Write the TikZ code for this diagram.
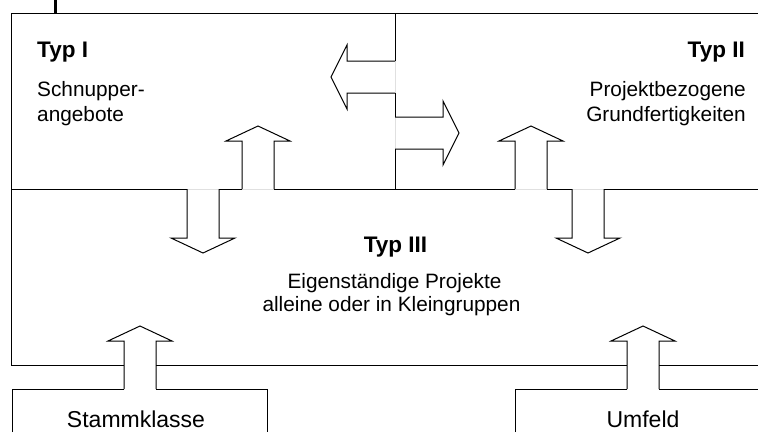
\documentclass[tikz,border=0pt]{standalone}
\usepackage{fontspec}
\setmainfont{Liberation Sans}
\usetikzlibrary{calc}

\tikzset{
  frame/.style={line width=1pt, line join=miter},
  opening/.style={line width=0.8pt, black!12},
  typhead/.style={font=\fontsize{22.5}{27}\selectfont\bfseries, inner sep=0pt},
  typtext/.style={font=\fontsize{20.8}{25}\selectfont, inner sep=0pt},
  boxname/.style={font=\fontsize{23}{27}\selectfont, inner sep=0pt}
}

\begin{document}
\begin{tikzpicture}[x=1pt,y=-1pt]
\useasboundingbox (0,0) rectangle (758,432);

% Corners of the frames
\coordinate (TL) at (11,13);
\coordinate (TR) at (758,13);
\coordinate (ML) at (11,189);
\coordinate (MR) at (758,189);
\coordinate (BL) at (11,365);
\coordinate (BR) at (758,365);

% Divider between Typ I and Typ II
\coordinate (D1) at (395,13);
\coordinate (D2) at (395,189);

% Foot of each arrow shaft
\coordinate (A1) at (242,189); % Typ III -> Typ I
\coordinate (A2) at (515,189); % Typ III -> Typ II
\coordinate (A3) at (187,189); % Typ I -> Typ III
\coordinate (A4) at (572,189); % Typ II -> Typ III
\coordinate (A5) at (124,389); % Stammklasse -> Typ III
\coordinate (A6) at (627,389); % Umfeld -> Typ III
\coordinate (A7) at (395,61);  % Typ II -> Typ I
\coordinate (A8) at (395,117); % Typ I -> Typ II

% Small tick at the top
\draw[line width=2.4pt] (55.5,0) -- (55.5,13);

% Draw the upper frame
\draw[frame] (ML) -- (TL) -- (TR);
\draw[frame] (D1) -- (A7) ($(A7)+(0,32)$) -- (A8) ($(A8)+(0,32)$) -- (D2);
\draw[opening] (A7) -- ++(0,32) (A8) -- ++(0,32);

% Line between upper and middle frame (open where the arrows pass)
\draw[frame] (ML) -- (A3) ($(A3)+(32,0)$) -- (A1) ($(A1)+(32,0)$) -- (A2)
  ($(A2)+(32,0)$) -- (A4) ($(A4)+(32,0)$) -- (MR);
\draw[opening] (A1) -- ++(32,0) (A2) -- ++(32,0) (A3) -- ++(32,0) (A4) -- ++(32,0);

% Middle frame
\draw[frame] (ML) -- (BL) -- ($(A5)+(0,-24)$) ($(A5)+(32,-24)$) -- ($(A6)+(0,-24)$)
  ($(A6)+(32,-24)$) -- (BR);

% Bottom boxes
\draw[frame] (12,432) -- (12,389) -- (A5) ($(A5)+(32,0)$) -- (267,389) -- (267,432);
\draw[frame] (515,432) -- (515,389) -- (A6) ($(A6)+(32,0)$) -- (758,389);

% Up arrows
\draw[frame] (A1) -- ++(0,-48) -- ++(-16,0) -- ++(32,-15) -- ++(32,15) -- ++(-16,0) -- ++(0,48);
\draw[frame] (A2) -- ++(0,-48) -- ++(-16,0) -- ++(32,-15) -- ++(32,15) -- ++(-16,0) -- ++(0,48);
\draw[frame] (A5) -- ++(0,-48) -- ++(-16,0) -- ++(32,-15) -- ++(32,15) -- ++(-16,0) -- ++(0,48);
\draw[frame] (A6) -- ++(0,-48) -- ++(-16,0) -- ++(32,-15) -- ++(32,15) -- ++(-16,0) -- ++(0,48);

% Down arrows
\draw[frame] (A3) -- ++(0,49) -- ++(-16,0) -- ++(32,15) -- ++(32,-15) -- ++(-16,0) -- ++(0,-49);
\draw[frame] (A4) -- ++(0,49) -- ++(-16,0) -- ++(32,15) -- ++(32,-15) -- ++(-16,0) -- ++(0,-49);

% Side arrows
\draw[frame] (A7) -- ++(-48,0) -- ++(0,-16) -- ++(-16,32) -- ++(16,32) -- ++(0,-16) -- ++(48,0);
\draw[frame] (A8) -- ++(48,0) -- ++(0,-16) -- ++(16,32) -- ++(-16,32) -- ++(0,-16) -- ++(-48,0);

% Labels
\node[typhead, anchor=base west] (typ1) at (37,57) {Typ I};
\node[typtext, anchor=base west] (typ1a) at (37,96.5) {Schnupper-};
\node[typtext, anchor=base west] (typ1b) at (37,121.5) {angebote};

\node[typhead, anchor=base east] (typ2) at (745,57) {Typ II};
\node[typtext, anchor=base east] (typ2a) at (746,96.5) {Projektbezogene};
\node[typtext, anchor=base east] (typ2b) at (746,121.5) {Grundfertigkeiten};

\node[typhead, anchor=base] (typ3) at (395.5,252) {Typ III};
\node[typtext, anchor=base] (typ3a) at (394.5,288) {Eigenständige Projekte};
\node[typtext, anchor=base] (typ3b) at (391.5,311.5) {alleine oder in Kleingruppen};

\node[boxname, anchor=base] (stamm) at (136,427) {Stammklasse};
\node[boxname, anchor=base] (umfeld) at (643,427) {Umfeld};

\end{tikzpicture}
\end{document}
